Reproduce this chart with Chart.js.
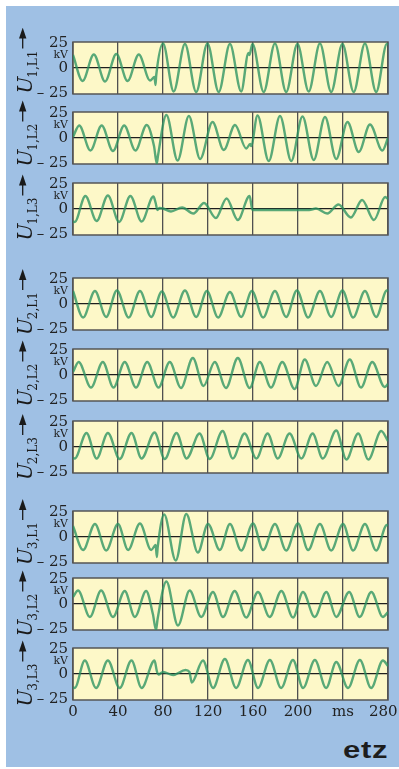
<!DOCTYPE html>
<html>
<head>
<meta charset="utf-8">
<script src="https://cdn.jsdelivr.net/npm/chart.js@4.4.0/dist/chart.umd.min.js"></script>
<style>
  html, body { margin: 0; padding: 0; background: #fff; }
  body { width: 399px; height: 769px; position: relative; overflow: hidden; }
  #bg { position: absolute; left: 6px; top: 6px; width: 393px; height: 761px; background: #9fc0e4; }
  canvas { position: absolute; left: 0; }
  #logo {
    position: absolute; left: 343px; top: 737px;
    font: bold 23px "Liberation Sans", Arial, sans-serif; letter-spacing: 0.5px;
    color: #1d1d1d; transform: scaleX(1.35); transform-origin: left top;
  }
</style>
</head>
<body>
<div id="bg"></div>
<div id="logo">etz</div>
<script>
// axis ticks
const xTickValues = [0, 40, 80, 120, 160, 200, 240, 280];
const xTickLabels = ['0', '40', '80', '120', '160', '200', 'ms', '280'];
const yTickValues = [-25, 0, 12.5, 25];
const yTickLabels = ['– 25', '0', 'kV', '25'];

// panel names (U index, line)
const panelLabels = ['1,L1', '1,L2', '1,L3', '2,L1', '2,L2', '2,L3', '3,L1', '3,L2', '3,L3'];

// voltage traces: [time ms, kV] at peaks / troughs / kinks
const u1L1 = [
  [0, 13], [8.5, -13], [18.5, 13.5], [28.5, -13.5], [38.5, 14], [48.5, -13], [58.5, 13.5], [68.5, -12.5],
  [72.5, -9], [73.3, -17], [74, -7], [80, 24.5],
  [89.5, -23.5], [99.5, 24], [109.5, -24], [119.5, 24.5], [129.5, -24], [139.5, 24], [149.5, -23.5],
  [156, 15], [156.8, 13], [159.5, 24],
  [169.5, -24], [179.5, 24.5], [189.5, -24], [199.5, 24], [209.5, -23.5], [219.5, 24.5], [229.5, -24],
  [239.5, 24], [249.5, -24], [259.5, 24.5], [269.5, -24], [279, 24], [280, 23.5]
];
const u1L2 = [
  [0, 1], [5.5, 12.5], [15.5, -12.5], [25.5, 12.5], [35.5, -13], [45.5, 12.5], [55.5, -12.5], [65.5, 13],
  [72, -8], [74.5, -25.5], [75.5, -18], [83, 23],
  [93, -22.5], [103, 22], [113, -21], [124, 16], [134, -12], [144, 13], [154, -10.5],
  [157.5, -6], [158.3, -8], [164, 22.5],
  [174, -23], [184, 22], [194, -23], [204, 21.5], [214, -22], [224, 21], [234, -21],
  [244, 16], [254, -14], [264, 13.5], [275, -12.5], [280, 0]
];
const u1L3 = [
  [0, -12.5], [1.5, -13], [11, 13], [21, -12], [31, 13.5], [41, -13], [51, 13], [61, -12.5], [71.5, 12.5],
  [73.5, 6], [75, -1], [77, 1], [80, 0.5],
  [87, -2.5], [97, 1.5], [107, -4.5], [116.5, 6], [127, -9], [136.5, 10.5], [146.5, -11], [157, 13],
  [159.5, -1], [210, -1],
  [216, 0.5], [226, -4.5], [236, 4.5], [247, -8.5], [257, 9], [267.5, -11], [277.5, 12], [280, 10]
];
const u2L1 = [
  [0, 13], [9, -13.5], [19.5, 13], [29.5, -13], [39, 13.5], [49.5, -13.5], [59.5, 13], [69.5, -13], [79, 12.5],
  [89, -13.5], [99.5, 13.5], [109.5, -13], [119, 13], [129, -13.5], [139.5, 12], [149.5, -13], [159, 13],
  [169, -13.5], [179.5, 13], [189.5, -13], [199, 13.5], [209, -13.5], [219.5, 13], [229.5, -13], [239.5, 13.5],
  [249, -13.5], [259.5, 13], [269.5, -13], [279, 13.5], [280, 13.3]
];
const u2L2 = [
  [0, 3], [5, 13], [16, -12.5], [26.5, 13], [36, -12.5], [46, 13], [56, -12.5], [66, 13], [76, -12.5],
  [86, 13], [96, -13], [106.5, 17], [116, -11], [126, 13], [136, -13], [146.5, 17], [157, -13], [166, 13],
  [176, -12.5], [186, 13], [197, -14], [206, 15.5], [216, -11], [226, 13], [236, -11], [246, 15.5],
  [256, -12.5], [266, 13], [277, -12], [280, -9]
];
const u2L3 = [
  [0, -11], [1.5, -11.5], [12, 14], [21, -11.5], [31, 14], [41.5, -12], [52, 14], [61, -11.5], [72.5, 14.5],
  [81.5, -12], [92, 14], [101, -11.5], [112.5, 13.5], [121.5, -12], [133, 16], [142, -11.5], [152.5, 13.5],
  [163, -11.5], [173, 13.5], [182, -11.5], [192.5, 13.5], [203, -11.5], [213, 13.5], [222, -11.5], [234, 16.5],
  [243, -12.5], [253.5, 13.5], [262.5, -12.5], [274, 16], [280, 6]
];
const u3L1 = [
  [0, 11], [9, -13], [19.5, 13], [29.5, -13.5], [40, 13], [49, -13], [59.5, 13.5], [69.5, -13],
  [73.5, -8], [74.5, -20], [75.3, -10], [81, 22.5],
  [91.3, -23.5], [100.7, 23], [111, -15.5], [120, 13], [130.5, -13], [139.5, 13], [149.5, -13.5],
  [160, 13.5], [169, -13], [179.5, 13], [189.5, -13.5], [200, 13.5], [209, -13], [219.5, 13], [229.5, -13.5],
  [240, 13], [249, -13.5], [259.5, 13], [269.5, -13.5], [279, 12], [280, 11.5]
];
const u3L2 = [
  [0, 7], [4.5, 13.5], [15, -13], [25, 13.5], [35.5, -13], [46, 13], [55, -13], [65, 13],
  [71, -10], [73.8, -26], [75.2, -15], [83, 22.5],
  [93.3, -21.5], [103.7, 13.5], [114, -13], [124.4, 12], [133.3, -13], [143.7, 13], [154, -13.5],
  [164.4, 12], [174.8, -13], [185.2, 13], [195.6, -13.5], [204.4, 12], [214.8, -13], [225.2, 12],
  [234, -13], [245.5, 12], [254.8, -13], [265.2, 12], [275.5, -13], [280, -8]
];
const u3L3 = [
  [0, -13], [1.5, -14], [10.5, 13.5], [20.5, -14], [31, 13.5], [41.5, -14], [52, 13.5], [61, -14], [72.5, 13.5],
  [74.5, 3], [76, -0.5], [80, 2], [89, -1], [100, 4], [103.5, 2], [105.5, -8.5], [115.5, 13.5],
  [124.5, -14], [135, 15], [145, -14], [155.5, 14], [164.5, -14], [175, 14], [185, -14], [195.5, 14],
  [204.5, -14], [215, 14], [225, -14], [234, 12], [244.5, -14], [255, 14], [265, -14], [275.5, 13.5], [280, 8]
];
const series = [u1L1, u1L2, u1L3, u2L1, u2L2, u2L3, u3L1, u3L2, u3L3];

// layout (px)
const panelTops = [42, 112, 183, 278, 349, 421, 511, 578, 648];
const titleBases = [93.5, 166.5, 240.5, 335, 406.5, 480, 565, 636.5, 706.5];
const plotH = 52, padTop = 14, padBottom = 10, axisH = 22;

const serif = "'DejaVu Serif', 'Liberation Serif', serif";
const lineColor = 'rgba(42, 146, 96, 0.78)';
const panelFill = '#fdf8c8';
const gridColor = '#505050';

Chart.defaults.font.family = serif;

// yellow plot face, frame and rotated U-label with arrow
const panelPlugin = {
  id: 'panel',
  beforeDraw(chart) {
    const { ctx, chartArea: a } = chart;
    ctx.save();
    ctx.fillStyle = panelFill;
    ctx.fillRect(a.left, a.top, a.right - a.left, a.bottom - a.top);
    ctx.restore();
  },
  beforeDatasetsDraw(chart) {
    const { ctx, chartArea: a } = chart;
    ctx.save();
    ctx.strokeStyle = '#555';
    ctx.lineWidth = 1.5;
    ctx.strokeRect(a.left, a.top, a.right - a.left, a.bottom - a.top);
    ctx.restore();
  },
  afterDraw(chart, args, opts) {
    const ctx = chart.ctx;
    ctx.save();
    ctx.translate(32, opts.base);
    ctx.rotate(-Math.PI / 2);
    ctx.fillStyle = '#1a1a1a';
    ctx.textBaseline = 'alphabetic';
    ctx.font = 'italic 20px ' + serif;
    ctx.fillText('U', 0, 0);
    const w = ctx.measureText('U').width;
    ctx.font = '12px ' + serif;
    ctx.fillText(opts.sub, w - 1, 5);
    const a0 = w - 1 + ctx.measureText(opts.sub).width + 2;
    ctx.strokeStyle = '#1a1a1a';
    ctx.lineWidth = 1.3;
    ctx.beginPath();
    ctx.moveTo(a0, -9.3);
    ctx.lineTo(a0 + 12, -9.3);
    ctx.stroke();
    ctx.beginPath();
    ctx.moveTo(a0 + 21, -9.3);
    ctx.lineTo(a0 + 10, -13);
    ctx.lineTo(a0 + 10, -5.6);
    ctx.closePath();
    ctx.fill();
    ctx.restore();
  }
};

function makeChart(i) {
  const isLast = i === series.length - 1;
  const canvas = document.createElement('canvas');
  canvas.width = 399;
  canvas.height = padTop + plotH + (isLast ? axisH + 2 : padBottom);
  canvas.style.top = (panelTops[i] - padTop) + 'px';
  document.body.appendChild(canvas);

  new Chart(canvas, {
    type: 'line',
    data: {
      datasets: [{
        data: series[i].map(([x, y]) => ({ x, y })),
        borderColor: lineColor,
        borderWidth: 2.4,
        pointRadius: 0,
        fill: false,
        cubicInterpolationMode: 'monotone'
      }]
    },
    options: {
      responsive: false,
      animation: false,
      events: [],
      layout: { padding: { top: padTop, right: 11, bottom: isLast ? 2 : padBottom, left: 0 } },
      plugins: {
        legend: { display: false },
        tooltip: { enabled: false },
        panel: { sub: panelLabels[i], base: titleBases[i] - panelTops[i] + padTop }
      },
      scales: {
        x: {
          type: 'linear',
          min: 0,
          max: 280,
          afterBuildTicks: s => { s.ticks = xTickValues.map(v => ({ value: v })); },
          afterFit: s => { s.height = isLast ? axisH : 0; s.paddingLeft = 0; s.paddingRight = 0; },
          grid: { color: gridColor, lineWidth: 1.3, drawTicks: false },
          border: { display: false },
          ticks: {
            display: isLast,
            autoSkip: false,
            maxRotation: 0,
            padding: 3,
            color: '#222',
            font: { size: 15 },
            callback: (v, idx) => idx === xTickLabels.length - 1 ? xTickLabels[idx] + '  ' : xTickLabels[idx]
          }
        },
        y: {
          min: -26,
          max: 26,
          afterBuildTicks: s => { s.ticks = yTickValues.map(v => ({ value: v })); },
          afterFit: s => { s.width = 73; s.paddingTop = 0; s.paddingBottom = 0; },
          grid: {
            color: c => c.tick && c.tick.value === 0 ? '#1e1e1e' : 'rgba(0,0,0,0)',
            lineWidth: 1.3,
            drawTicks: false
          },
          border: { display: false },
          ticks: {
            autoSkip: false,
            padding: 5,
            color: '#222',
            font: c => ({ size: c.tick && c.tick.value === 12.5 ? 11 : 15 }),
            callback: (v, idx) => yTickLabels[idx]
          }
        }
      }
    },
    plugins: [panelPlugin]
  });
}

series.forEach((s, i) => makeChart(i));
</script>
</body>
</html>
